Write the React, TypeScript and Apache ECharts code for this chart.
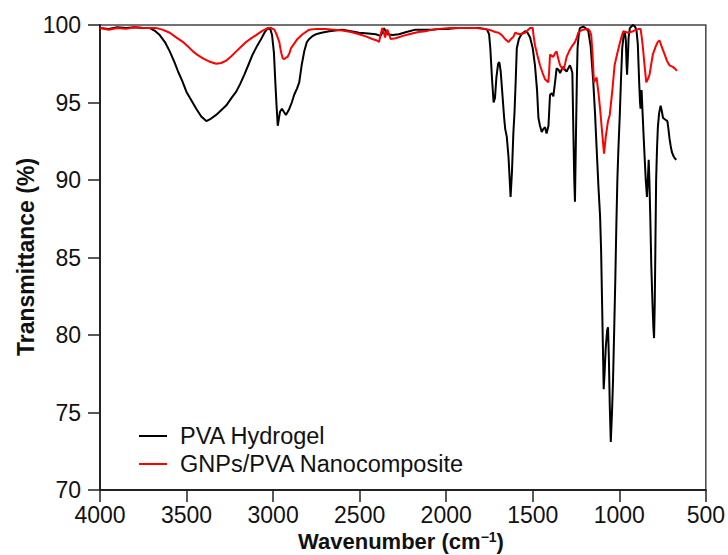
import React, { useEffect, useRef } from "react";
import * as echarts from "echarts";

const xTicks = [4000, 3500, 3000, 2500, 2000, 1500, 1000, 500];
const yTicks = [70, 75, 80, 85, 90, 95, 100];
const seriesNames = ["PVA Hydrogel", "GNPs/PVA Nanocomposite"];

const hydrogelWave = [
  4000, 3950, 3900, 3850, 3800, 3750, 3712, 3680, 3655, 3625, 3597, 3570, 3549, 3525, 3501, 3470, 3444, 3415, 3386, 3360,
  3329, 3300, 3271, 3240, 3213, 3190, 3166, 3140, 3118, 3090, 3069, 3050, 3031, 3015, 3006, 2995, 2987, 2980, 2973, 2966,
  2960, 2949, 2938, 2926, 2915, 2906, 2892, 2878, 2862, 2849, 2835, 2820, 2805, 2791, 2770, 2753, 2720, 2676, 2640, 2600,
  2550, 2503, 2450, 2407, 2379, 2365, 2359, 2350, 2340, 2310, 2273, 2230, 2177, 2130, 2081, 2030, 1985, 1930, 1889, 1850,
  1812, 1780, 1764, 1752, 1745, 1735, 1726, 1718, 1710, 1700, 1693, 1685, 1675, 1665, 1659, 1650, 1640, 1633, 1628, 1620,
  1612, 1605, 1598, 1592, 1580, 1565, 1544, 1530, 1515, 1500, 1487, 1475, 1467, 1458, 1448, 1438, 1429, 1420, 1409, 1400,
  1390, 1381, 1370, 1362, 1350, 1342, 1330, 1323, 1313, 1304, 1295, 1285, 1278, 1271, 1265, 1260, 1256, 1250, 1245, 1241,
  1235, 1228, 1208, 1195, 1179, 1165, 1150, 1140, 1131, 1120, 1111, 1105, 1100, 1095, 1090, 1085, 1078, 1070, 1065, 1060,
  1055, 1049, 1042, 1036, 1030, 1023, 1017, 1011, 1005, 997, 990, 983, 975, 968, 962, 958, 955, 950, 946, 939,
  930, 920, 910, 901, 893, 885, 880, 877, 874, 871, 866, 860, 854, 847, 840, 835, 830, 826, 821, 815,
  808, 803, 799, 795, 791, 787, 782, 777, 770, 761, 755, 747, 735, 722, 716, 710, 703, 696, 685, 678,
  671, 667,
];
const hydrogelT = [
  99.8, 99.75, 99.85, 99.8, 99.85, 99.8, 99.8, 99.6, 99.35, 98.9, 98.3, 97.6, 97.0, 96.4, 95.7, 95.1, 94.6, 94.1, 93.8, 93.95,
  94.2, 94.5, 94.8, 95.3, 95.7, 96.2, 96.8, 97.5, 98.1, 98.7, 99.1, 99.5, 99.8, 99.7, 99.35, 98.2, 96.3, 94.8, 93.5, 94.0,
  94.4, 94.6, 94.4, 94.2, 94.4, 94.6, 95.0, 95.5, 95.9, 96.3, 97.4, 98.3, 98.9, 99.1, 99.3, 99.4, 99.5, 99.6, 99.65, 99.7,
  99.6, 99.5, 99.45, 99.4, 99.3, 99.6, 99.8, 99.6, 99.4, 99.35, 99.4, 99.55, 99.7, 99.7, 99.7, 99.75, 99.75, 99.8, 99.8, 99.8,
  99.8, 99.75, 99.7, 99.4, 98.5, 96.5, 95.0, 95.3, 96.6, 97.5, 97.6, 97.0, 95.5, 94.0, 93.3, 92.8, 91.5, 90.0, 88.9, 90.5,
  93.0, 94.4, 96.5, 98.5, 99.1, 99.4, 99.6, 99.5, 99.2, 98.5, 97.4, 95.8, 94.0, 93.5, 93.1, 93.3, 93.4, 93.0, 93.5, 95.5,
  95.6, 95.4, 96.4, 97.2, 97.1, 96.9, 97.2, 97.3, 97.1, 97.0, 97.2, 97.4, 97.2, 96.9, 93.0, 90.0, 88.6, 93.0, 96.5, 98.5,
  99.3, 99.8, 99.9, 99.8, 99.6, 98.6, 96.3, 94.3, 92.1, 89.5, 87.7, 85.5, 82.5, 79.5, 76.5, 77.5, 79.2, 80.3, 80.5, 78.5,
  75.5, 73.1, 75.0, 77.1, 80.0, 83.5, 87.0, 90.0, 92.0, 94.2, 96.5, 98.5, 99.3, 99.6, 99.0, 97.5, 96.8, 98.0, 99.2, 99.8,
  99.9, 100.0, 99.9, 99.7, 98.8, 96.3, 95.0, 94.6, 95.2, 95.8, 94.5, 93.0, 91.6, 90.0, 88.9, 90.0, 91.3, 90.0, 87.7, 84.5,
  82.0, 80.5, 79.8, 82.0, 86.0, 90.0, 92.0, 93.4, 94.3, 94.8, 94.5, 94.0, 93.9, 93.8, 93.3, 92.7, 92.2, 91.8, 91.5, 91.4,
  91.3, 91.3,
];

const compositeWave = [
  4000, 3950, 3900, 3850, 3800, 3750, 3700, 3674, 3640, 3597, 3560, 3520, 3490, 3463, 3435, 3405, 3370, 3329, 3300, 3271,
  3240, 3213, 3185, 3156, 3125, 3098, 3065, 3031, 3010, 2993, 2980, 2964, 2955, 2945, 2935, 2925, 2916, 2905, 2897, 2878,
  2859, 2830, 2791, 2750, 2700, 2650, 2600, 2550, 2503, 2460, 2427, 2400, 2388, 2378, 2369, 2360, 2353, 2346, 2340, 2330,
  2321, 2292, 2250, 2215, 2160, 2119, 2080, 2043, 1980, 1930, 1889, 1830, 1774, 1740, 1717, 1697, 1679, 1660, 1640, 1625,
  1611, 1602, 1590, 1573, 1560, 1544, 1530, 1515, 1500, 1495, 1487, 1472, 1458, 1443, 1429, 1410, 1405, 1400, 1390, 1381,
  1370, 1362, 1352, 1342, 1330, 1323, 1313, 1304, 1290, 1275, 1256, 1245, 1237, 1220, 1208, 1180, 1170, 1162, 1155, 1146,
  1138, 1131, 1120, 1111, 1100, 1088, 1078, 1065, 1055, 1040, 1027, 1013, 1000, 988, 977, 963, 949, 935, 920, 901,
  885, 877, 870, 863, 854, 844, 835, 825, 815, 806, 790, 778, 767, 755, 738, 725, 710, 700, 691, 680,
  671, 667,
];
const compositeT = [
  99.8, 99.7, 99.8, 99.75, 99.85, 99.8, 99.8, 99.8, 99.7, 99.5, 99.2, 98.9, 98.6, 98.3, 98.05, 97.85, 97.65, 97.5, 97.55, 97.7,
  98.0, 98.3, 98.6, 98.9, 99.15, 99.35, 99.6, 99.8, 99.8, 99.7, 99.4, 98.9, 98.3, 97.85, 97.8, 97.9, 97.95, 98.2, 98.5, 98.8,
  99.1, 99.4, 99.7, 99.75, 99.75, 99.7, 99.65, 99.55, 99.4, 99.25, 99.1, 99.0, 98.9, 99.4, 99.8, 99.5, 99.2, 99.5, 99.7, 99.4,
  99.1, 99.15, 99.3, 99.4, 99.55, 99.6, 99.7, 99.75, 99.8, 99.8, 99.8, 99.8, 99.75, 99.65, 99.55, 99.5, 99.35, 99.1, 98.9, 99.1,
  99.25, 99.5, 99.45, 99.4, 99.45, 99.5, 99.65, 99.8, 99.8, 99.3, 98.7, 98.0, 97.4, 96.9, 96.5, 96.3, 97.0, 98.1, 98.0, 97.95,
  98.2, 98.3, 97.8, 97.4, 97.2, 97.1, 97.5, 97.95, 98.3, 98.6, 98.9, 99.2, 99.5, 99.65, 99.7, 99.75, 99.6, 99.35, 98.2, 96.3,
  96.5, 96.6, 95.6, 94.6, 93.2, 91.7, 92.8, 93.8, 94.2, 95.8, 97.4, 98.1, 98.7, 99.2, 99.6, 99.55, 99.5, 99.55, 99.6, 99.7,
  99.75, 99.75, 99.2, 98.5, 97.4, 96.3, 96.5, 96.8, 97.5, 98.1, 98.6, 98.9, 99.0, 98.6, 98.1, 97.7, 97.4, 97.35, 97.3, 97.2,
  97.1, 97.05,
];

const FONT = '"Liberation Sans", Arial, Helvetica, sans-serif';

function zip(xs: number[], ys: number[]) {
  return xs.map((x, i) => [x, ys[i]]);
}

export default function App() {
  const ref = useRef<HTMLDivElement>(null);
  useEffect(() => {
    if (!ref.current) return;
    const chart = echarts.init(ref.current, undefined, { renderer: "svg" });
    chart.setOption({
      animation: false,
      backgroundColor: "#ffffff",
      grid: {
        left: 100,
        right: 20,
        top: 25,
        bottom: 65,
        show: true,
        borderColor: "#444",
        borderWidth: 1.5,
        backgroundColor: "transparent",
      },
      legend: {
        orient: "vertical",
        left: 139,
        top: 424,
        padding: 0,
        icon: "rect",
        itemWidth: 28,
        itemHeight: 2,
        itemGap: 4,
        data: seriesNames,
        textStyle: {
          fontFamily: FONT,
          fontSize: 23.5,
          color: "#111",
          lineHeight: 24,
          padding: [0, 0, 0, 8],
        },
      },
      xAxis: {
        type: "value",
        inverse: true,
        min: 500,
        max: 4000,
        interval: 500,
        splitLine: { show: false },
        axisLine: { show: true, lineStyle: { color: "#222", width: 2 } },
        axisTick: { show: true, inside: false, length: 12, lineStyle: { color: "#222", width: 1.5 } },
        axisLabel: {
          fontFamily: FONT,
          fontSize: 23,
          color: "#111",
          margin: 13,
          formatter: (v: number) => (xTicks.includes(v) ? String(v) : ""),
        },
      },
      yAxis: {
        type: "value",
        min: 70,
        max: 100,
        interval: 5,
        splitLine: { show: false },
        axisLine: { show: true, lineStyle: { color: "#222", width: 2 } },
        axisTick: { show: true, inside: false, length: 12, lineStyle: { color: "#222", width: 1.5 } },
        axisLabel: {
          fontFamily: FONT,
          fontSize: 23,
          color: "#111",
          margin: 19,
          formatter: (v: number) => (yTicks.includes(v) ? String(v) : ""),
        },
      },
      series: [
        {
          name: seriesNames[0],
          type: "line",
          data: zip(hydrogelWave, hydrogelT),
          showSymbol: false,
          symbol: "none",
          lineStyle: { color: "#000000", width: 2 },
          itemStyle: { color: "#000000" },
          z: 2,
        },
        {
          name: seriesNames[1],
          type: "line",
          data: zip(compositeWave, compositeT),
          showSymbol: false,
          symbol: "none",
          lineStyle: { color: "#ff0000", width: 2 },
          itemStyle: { color: "#ff0000" },
          z: 3,
        },
      ],
      graphic: [
        {
          type: "text",
          x: 26,
          y: 257,
          rotation: Math.PI / 2,
          style: {
            text: "Transmittance (%)",
            fontFamily: FONT,
            fontSize: 23,
            fontWeight: "bold",
            fill: "#111",
            textAlign: "center",
            textVerticalAlign: "middle",
          },
        },
        {
          type: "text",
          x: 401,
          y: 541,
          style: {
            text: "{a|Wavenumber (cm}{b|−1}{a|)}",
            fill: "#111",
            textAlign: "center",
            textVerticalAlign: "middle",
            rich: {
              a: { fontFamily: FONT, fontSize: 22, fontWeight: "bold", fill: "#111", lineHeight: 22 },
              b: { fontFamily: FONT, fontSize: 14, fontWeight: "bold", fill: "#111", verticalAlign: "top", lineHeight: 14 },
            },
          },
        },
      ],
    });
    return () => chart.dispose();
  }, []);
  return (
    <div
      ref={ref}
      style={{ position: "fixed", left: 0, top: 0, width: 728, height: 555, background: "#fff" }}
    />
  );
}
